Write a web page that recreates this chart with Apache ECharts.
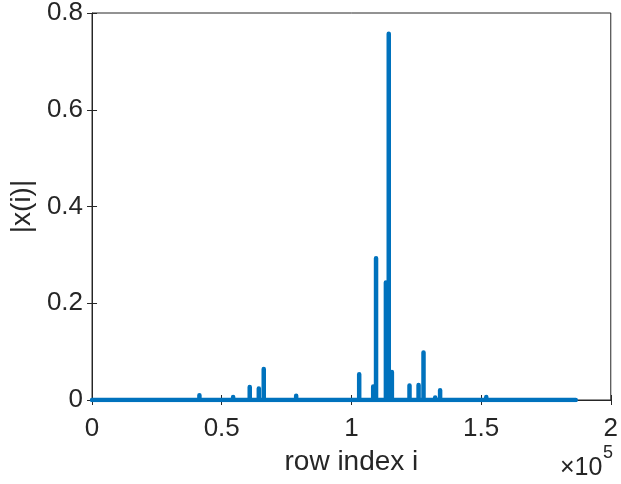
<!DOCTYPE html>
<html>
<head>
<meta charset="utf-8">
<script src="https://cdn.jsdelivr.net/npm/echarts@6/dist/echarts.min.js"></script>
<style>
  html, body { margin: 0; padding: 0; background: #fff; }
  #chart { width: 621px; height: 484px; }
</style>
</head>
<body>
<div id="chart"></div>
<script>
// spike positions (row index) and heights |x(i)|
const spikeX = [36500, 41400, 54400, 60800, 64300, 66200, 73800, 78700, 85200,
                103000, 108400, 109500, 113300, 114400, 115600, 122400, 125900,
                127800, 132300, 134200, 152000, 158500];
const spikeY = [0.004, 0.010, 0.006, 0.027, 0.024, 0.064, 0.004, 0.009, 0.002,
                0.053, 0.028, 0.293, 0.243, 0.757, 0.058, 0.030, 0.031,
                0.098, 0.005, 0.020, 0.006, 0.002];
const rowStart = 0;
const rowEnd = 186500;
const xTicks = [0, 50000, 100000, 150000, 200000];
const yTicks = [0, 0.2, 0.4, 0.6, 0.8];

function buildLine() {
    const pts = [[rowStart, 0]];
    for (let k = 0; k < spikeX.length; k++) {
        pts.push([spikeX[k], 0]);
        pts.push([spikeX[k], spikeY[k]]);
        pts.push([spikeX[k], 0]);
    }
    pts.push([rowEnd, 0]);
    return pts;
}

const font = '"Liberation Sans", Arial, Helvetica, sans-serif';
const axisGray = '#262626';

const chart = echarts.init(document.getElementById('chart'), null, { renderer: 'canvas' });

const option = {
    animation: false,
    backgroundColor: '#fff',
    grid: { left: 91, right: 4, top: 11, bottom: 84, show: true, borderColor: axisGray, borderWidth: 1 },
    xAxis: [{
        type: 'value',
        min: xTicks[0], max: xTicks[xTicks.length - 1], interval: 50000,
        name: 'row index i',
        nameLocation: 'middle',
        nameGap: 48,
        nameTextStyle: { fontFamily: font, fontSize: 28, color: axisGray },
        axisLine: { onZero: false, lineStyle: { color: axisGray, width: 1 } },
        axisTick: { inside: true, length: 5, lineStyle: { color: axisGray } },
        axisLabel: {
            fontFamily: font, fontSize: 26, color: axisGray, margin: 16,
            formatter: v => String(v / 1e5)
        },
        splitLine: { show: false }
    }, {
        type: 'value', position: 'top',
        min: xTicks[0], max: xTicks[xTicks.length - 1], interval: 50000,
        axisLine: { show: false },
        axisTick: { inside: true, length: 5, lineStyle: { color: axisGray } },
        axisLabel: { show: false },
        splitLine: { show: false }
    }],
    yAxis: [{
        type: 'value',
        min: yTicks[0], max: yTicks[yTicks.length - 1], interval: 0.2,
        name: '|x(i)|',
        nameLocation: 'middle',
        nameGap: 43,
        nameRotate: 90,
        nameTextStyle: { fontFamily: font, fontSize: 28, color: axisGray },
        axisLine: { show: true, lineStyle: { color: axisGray, width: 1 } },
        axisTick: { show: true, inside: true, length: 5, lineStyle: { color: axisGray } },
        axisLabel: {
            fontFamily: font, fontSize: 26, color: axisGray, margin: 9,
            formatter: v => (v === 0 ? '0' : String(+v.toFixed(1)))
        },
        splitLine: { show: false }
    }, {
        type: 'value', position: 'right',
        min: yTicks[0], max: yTicks[yTicks.length - 1], interval: 0.2,
        axisLine: { show: false },
        axisTick: { show: true, inside: true, length: 5, lineStyle: { color: axisGray } },
        axisLabel: { show: false },
        splitLine: { show: false }
    }],
    graphic: [{
        type: 'text', x: 560, y: 468,
        style: { text: '×10', fontFamily: font, fontSize: 25, fill: axisGray, align: 'left', verticalAlign: 'middle' }
    }, {
        type: 'text', x: 603, y: 453,
        style: { text: '5', fontFamily: font, fontSize: 18, fill: axisGray, align: 'left', verticalAlign: 'middle' }
    }],
    series: [{
        type: 'line',
        data: buildLine(),
        showSymbol: false,
        symbol: 'none',
        lineStyle: { color: '#0072BD', width: 4.5, cap: 'round', join: 'round' },
        z: 3
    }]
};

chart.setOption(option);
</script>
</body>
</html>
